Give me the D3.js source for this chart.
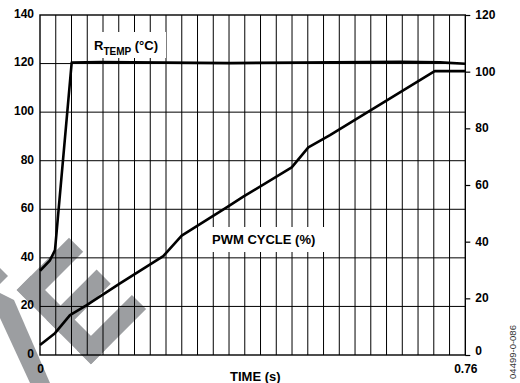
<!DOCTYPE html>
<html>
<head>
<meta charset="utf-8">
<script src="https://cdn.jsdelivr.net/npm/d3@7"></script>
<style>
  html, body { margin: 0; padding: 0; background: #fff; }
  svg { display: block; }
  text { font-family: "Liberation Sans", Arial, sans-serif; }
</style>
</head>
<body>
<svg id="chart" width="520" height="383"></svg>
<script>
// ---- data ----
const tempTime = [0, 0.0179, 0.0268, 0.0566, 0.107, 0.34, 0.465, 0.643, 0.715, 0.76];
const tempValue = [34.7, 39.0, 43.2, 120.4, 120.6, 120.2, 120.4, 120.7, 120.5, 119.9];
const pwmTime = [0, 0.0268, 0.0536, 0.0835, 0.143, 0.2203, 0.2532, 0.3336, 0.3633, 0.4498, 0.4795, 0.5182, 0.7053, 0.76];
const pwmValue = [3.5, 7.7, 14.1, 17.6, 25.3, 34.9, 42.1, 52.1, 55.9, 66.2, 73.3, 77.6, 100.2, 100.2];
const leftTicks = [0, 20, 40, 60, 80, 100, 120, 140];
const rightTicks = [0, 20, 40, 60, 80, 100, 120];
const xTicks = [0, 0.76];
const xTickLabels = ["0", "0.76"];
const gridIntervals = 27;

const svg = d3.select("#chart");
const L = 40, R = 465.3, T = 15, B = 355;
const x = d3.scaleLinear().domain([0, 0.76]).range([L, R]);
const yL = d3.scaleLinear().domain([0, 140]).range([B, T]);
const yR = d3.scaleLinear().domain([0, 120]).range([B, T]);

// ---- watermark ----
const wm = svg.append("g").attr("fill", "#9c9ea1");
// rotated "E": frame origin and axes
const O = [16.7, 290], s2 = Math.SQRT1_2;
const P = (u, v) => [O[0] + (u + v) * s2, O[1] + (u - v) * s2];
const rect = (u0, u1, v0, v1) => [P(u0, v0), P(u1, v0), P(u1, v1), P(u0, v1)];
[rect(0, 105, 0, 20), rect(0, 20, 0, 74), rect(42, 62, 0, 71), rect(85, 105, 0, 78)]
  .forEach(p => wm.append("polygon").attr("points", p.map(d => d.join(",")).join(" ")));
wm.append("polygon").attr("points", "0,293 14,300 50,383 30,383 0,318");
wm.append("polygon").attr("points", "0,268 8,276 0,284");

// ---- grid ----
const grid = svg.append("g").attr("stroke", "#000").attr("stroke-width", 1);
d3.range(1, gridIntervals).forEach(i => {
  const gx = x(0.76 * i / gridIntervals);
  grid.append("line").attr("x1", gx).attr("x2", gx).attr("y1", T).attr("y2", B);
});
leftTicks.slice(1, -1).forEach(v => {
  grid.append("line").attr("x1", L).attr("x2", R).attr("y1", yL(v)).attr("y2", yL(v));
});

// ---- label backgrounds ----
svg.append("rect").attr("x", 89).attr("y", 32).attr("width", 77).attr("height", 26).attr("fill", "#fff");
svg.append("rect").attr("x", 208).attr("y", 227).attr("width", 119).attr("height", 25).attr("fill", "#fff");

// frame
svg.append("rect").attr("x", L).attr("y", T).attr("width", R - L).attr("height", B - T)
  .attr("fill", "none").attr("stroke", "#000").attr("stroke-width", 1.4);

// ---- axes ----
const axL = svg.append("g").attr("transform", `translate(${L},0)`)
  .call(d3.axisLeft(yL).tickValues(leftTicks).tickSize(0).tickPadding(6));
const axR = svg.append("g").attr("transform", `translate(${R},0)`)
  .call(d3.axisRight(yR).tickValues(rightTicks).tickSize(5).tickPadding(5));
const axB = svg.append("g").attr("transform", `translate(0,${B})`)
  .call(d3.axisBottom(x).tickValues(xTicks).tickFormat((d, i) => xTickLabels[i]).tickSize(0).tickPadding(9));
[axL, axR, axB].forEach(a => {
  a.select(".domain").remove();
  a.selectAll("text").attr("font-family", "Liberation Sans, Arial, sans-serif")
    .attr("font-size", 12).attr("font-weight", "bold").attr("fill", "#000");
  a.selectAll("line").attr("stroke", "#000").attr("stroke-width", 1.2);
});
axL.selectAll("text").attr("dy", "0.2em");
axR.selectAll("text").attr("dy", d => d === 0 ? "-0.05em" : "0.3em");

// ---- lines ----
const tempData = tempTime.map((t, i) => [t, tempValue[i]]);
const pwmData = pwmTime.map((t, i) => [t, pwmValue[i]]);
svg.append("path").datum(tempData)
  .attr("d", d3.line().x(d => x(d[0])).y(d => yL(d[1])))
  .attr("fill", "none").attr("stroke", "#000").attr("stroke-width", 2.6).attr("stroke-linejoin", "round");
svg.append("path").datum(pwmData)
  .attr("d", d3.line().x(d => x(d[0])).y(d => yR(d[1])))
  .attr("fill", "none").attr("stroke", "#000").attr("stroke-width", 2.6).attr("stroke-linejoin", "round");

// ---- labels ----
const rt = svg.append("text").attr("x", 94).attr("y", 50)
  .attr("font-size", 13).attr("font-weight", "bold").attr("fill", "#000");
rt.append("tspan").text("R");
rt.append("tspan").attr("font-size", 10).attr("dy", 5).text("TEMP");
rt.append("tspan").attr("dy", -5).text(" (°C)");

svg.append("text").attr("x", 212).attr("y", 244.3)
  .attr("font-size", 13).attr("font-weight", "bold").attr("fill", "#000").text("PWM CYCLE (%)");

svg.append("text").attr("x", 255.3).attr("y", 381)
  .attr("text-anchor", "middle").attr("font-size", 13).attr("font-weight", "bold").attr("fill", "#000").text("TIME (s)");

svg.append("text").attr("transform", "translate(516,352) rotate(-90)")
  .attr("text-anchor", "middle").attr("font-size", 9.5).attr("fill", "#333").text("04499-0-086");
</script>
</body>
</html>
